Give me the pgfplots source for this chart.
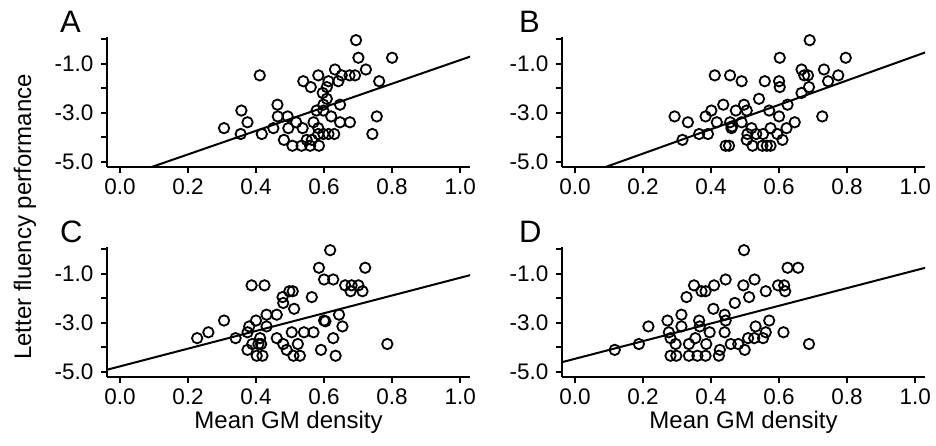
\documentclass[border=0pt]{standalone}
\usepackage{pgfplots}
\pgfplotsset{compat=1.18}
\usepackage{fontspec}
\setmainfont{Liberation Sans}

\pgfplotsset{
  panel/.style={
    scale only axis, width=363pt, height=130pt,
    xmin=-0.038, xmax=1.029, ymin=-5.22, ymax=0.1,
    axis x line*=bottom, axis y line*=left,
    axis line style={line width=2pt},
    tick align=outside, major tick length=6pt,
    every tick/.style={black, line width=2pt},
    xtick={0,0.2,0.4,0.6,0.8,1.0},
    xticklabels={0.0,0.2,0.4,0.6,0.8,1.0},
    ytick={-5,-4,-3,-2,-1,0},
    yticklabels={-5.0,{},-3.0,{},-1.0,{}},
    ticklabel style={font=\fontsize{22.5}{26}\selectfont},
    xticklabel style={yshift=-2pt},
    yticklabel style={xshift=-4pt},
    label style={font=\fontsize{24}{28}\selectfont},
    anchor=south west,
  },
  pts/.style={only marks, mark=o, mark size=5.2pt, black,
    mark options={line width=1.8pt}},
  fit/.style={no marks, black, line width=2pt},
}

\begin{document}
\begin{tikzpicture}
\path[use as bounding box] (0,0) rectangle (936pt,-446pt);

% A
\begin{axis}[panel, at={(107pt,-167pt)}]
\addplot[pts] coordinates {
(0.694,-0.03) (0.701,-0.75) (0.800,-0.75) (0.723,-1.23) (0.632,-1.23)
(0.411,-1.47) (0.583,-1.47) (0.652,-1.47) (0.675,-1.47) (0.691,-1.47)
(0.539,-1.71) (0.613,-1.71) (0.642,-1.71) (0.762,-1.71) (0.561,-1.95)
(0.608,-1.95) (0.596,-2.19) (0.608,-2.43) (0.598,-2.67) (0.647,-2.67)
(0.463,-2.67) (0.357,-2.91) (0.578,-2.91) (0.598,-2.91) (0.464,-3.15)
(0.493,-3.15) (0.621,-3.15) (0.755,-3.15) (0.375,-3.39) (0.518,-3.39)
(0.569,-3.39) (0.647,-3.39) (0.676,-3.39) (0.306,-3.63) (0.451,-3.63)
(0.495,-3.63) (0.537,-3.63) (0.583,-3.63) (0.355,-3.87) (0.417,-3.87)
(0.583,-3.87) (0.598,-3.87) (0.613,-3.87) (0.630,-3.87) (0.742,-3.87)
(0.482,-4.11) (0.549,-4.11) (0.564,-4.11) (0.507,-4.35) (0.534,-4.35)
(0.559,-4.35) (0.585,-4.35)
};
\addplot[fit] coordinates {(0,-5.67) (1.03,-0.70)};
\end{axis}

% B
\begin{axis}[panel, at={(562pt,-167pt)}]
\addplot[pts] coordinates {
(0.690,-0.03) (0.602,-0.75) (0.796,-0.75) (0.666,-1.23) (0.732,-1.23)
(0.411,-1.47) (0.456,-1.47) (0.674,-1.47) (0.685,-1.47) (0.774,-1.47)
(0.490,-1.71) (0.558,-1.71) (0.600,-1.71) (0.744,-1.71) (0.602,-1.95)
(0.688,-1.95) (0.666,-2.19) (0.541,-2.43) (0.436,-2.67) (0.497,-2.67)
(0.625,-2.67) (0.401,-2.91) (0.473,-2.91) (0.505,-2.91) (0.571,-2.91)
(0.293,-3.15) (0.384,-3.15) (0.600,-3.15) (0.727,-3.15) (0.332,-3.39)
(0.417,-3.39) (0.456,-3.39) (0.490,-3.39) (0.646,-3.39) (0.460,-3.63)
(0.519,-3.63) (0.575,-3.63) (0.622,-3.63) (0.365,-3.87) (0.391,-3.87)
(0.507,-3.87) (0.533,-3.87) (0.553,-3.87) (0.595,-3.87) (0.316,-4.11)
(0.505,-4.11) (0.610,-4.11) (0.443,-4.35) (0.453,-4.35) (0.522,-4.35)
(0.551,-4.35) (0.564,-4.35) (0.575,-4.35) (0.462,-3.56)
};
\addplot[fit] coordinates {(0,-5.67) (1.03,-0.53)};
\end{axis}

% C
\begin{axis}[panel, at={(107pt,-377pt)}, xlabel={Mean GM density}]
\addplot[pts] coordinates {
(0.618,-0.03) (0.585,-0.75) (0.721,-0.75) (0.600,-1.23) (0.627,-1.23)
(0.387,-1.47) (0.425,-1.47) (0.662,-1.47) (0.681,-1.47) (0.701,-1.47)
(0.498,-1.71) (0.508,-1.71) (0.678,-1.71) (0.713,-1.71) (0.478,-1.95)
(0.564,-1.95) (0.480,-2.19) (0.512,-2.43) (0.306,-2.91) (0.431,-2.67)
(0.461,-2.67) (0.644,-2.67) (0.400,-2.91) (0.600,-2.91) (0.604,-2.94)
(0.380,-3.15) (0.431,-3.15) (0.654,-3.15) (0.375,-3.39) (0.227,-3.63)
(0.260,-3.39) (0.340,-3.63) (0.412,-3.63) (0.461,-3.63) (0.505,-3.39)
(0.541,-3.39) (0.569,-3.39) (0.627,-3.63) (0.389,-3.87) (0.407,-3.87)
(0.415,-3.87) (0.480,-3.87) (0.523,-3.87) (0.786,-3.87) (0.375,-4.11)
(0.490,-4.11) (0.591,-4.11) (0.402,-4.35) (0.419,-4.35) (0.510,-4.35)
(0.529,-4.35) (0.634,-4.35)
};
\addplot[fit] coordinates {(-0.04,-4.93) (1.03,-1.05)};
\end{axis}

% D
\begin{axis}[panel, at={(562pt,-377pt)}, xlabel={Mean GM density}]
\addplot[pts] coordinates {
(0.497,-0.03) (0.625,-0.75) (0.656,-0.75) (0.443,-1.23) (0.528,-1.23)
(0.350,-1.47) (0.409,-1.47) (0.495,-1.47) (0.597,-1.47) (0.615,-1.47)
(0.372,-1.71) (0.384,-1.71) (0.561,-1.71) (0.618,-1.71) (0.328,-1.95)
(0.512,-1.95) (0.470,-2.19) (0.407,-2.43) (0.313,-2.67) (0.440,-2.67)
(0.272,-2.91) (0.365,-2.91) (0.443,-2.91) (0.571,-2.91) (0.216,-3.15)
(0.313,-3.15) (0.367,-3.15) (0.531,-3.15) (0.276,-3.39) (0.396,-3.39)
(0.440,-3.39) (0.561,-3.39) (0.613,-3.39) (0.281,-3.63) (0.354,-3.63)
(0.509,-3.63) (0.527,-3.63) (0.553,-3.63) (0.117,-4.11) (0.188,-3.87)
(0.296,-3.87) (0.335,-3.87) (0.386,-3.87) (0.458,-3.87) (0.480,-3.87)
(0.688,-3.87) (0.426,-4.11) (0.499,-4.11) (0.281,-4.35) (0.298,-4.35)
(0.335,-4.35) (0.360,-4.35) (0.384,-4.35) (0.423,-4.35)
};
\addplot[fit] coordinates {(-0.04,-4.62) (1.03,-0.75)};
\end{axis}

% panel letters and shared y label
\node[anchor=base west, inner sep=0pt, font=\fontsize{31}{36}\selectfont] at (60pt,-33pt) {A};
\node[anchor=base west, inner sep=0pt, font=\fontsize{31}{36}\selectfont] at (519pt,-33pt) {B};
\node[anchor=base west, inner sep=0pt, font=\fontsize{31}{36}\selectfont] at (60pt,-243pt) {C};
\node[anchor=base west, inner sep=0pt, font=\fontsize{31}{36}\selectfont] at (519pt,-243pt) {D};
\node[rotate=90, inner sep=0pt, font=\fontsize{24}{28}\selectfont] at (25pt,-217pt) {Letter fluency performance};
\end{tikzpicture}
\end{document}
